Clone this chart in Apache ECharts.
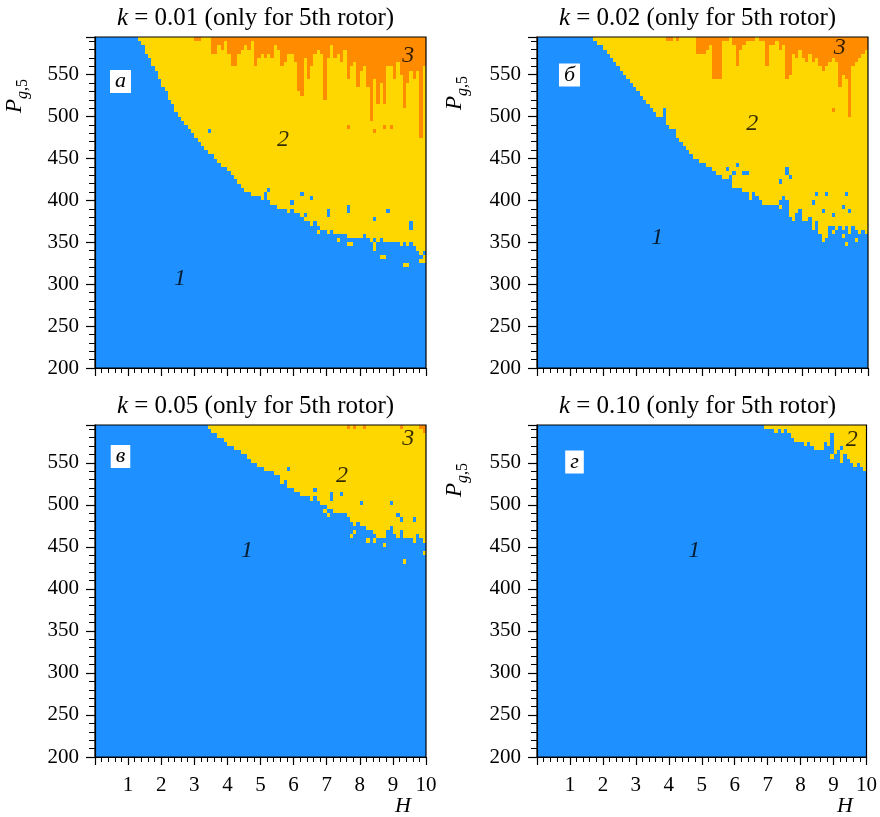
<!DOCTYPE html>
<html><head><meta charset="utf-8">
<script src="https://cdn.jsdelivr.net/npm/echarts@6/dist/echarts.min.js"></script>
<style>html,body{margin:0;padding:0;background:#fff}#c{width:880px;height:817px}</style>
</head><body><div id="c"></div>
<script>
// ---- axes / grid of the computation ----
const H_MIN = 0, H_MAX = 10, H_STEP = 0.1;          // 100 columns of H
const P_MIN = 200, P_MAX = 595, P_STEP = 5;         // rows of P_g,5
const xTickLabels = [1, 2, 3, 4, 5, 6, 7, 8, 9, 10];
const yTickLabels = [200, 250, 300, 350, 400, 450, 500, 550];
const kValues = ['0.01', '0.02', '0.05', '0.10'];
const panelLetters = ['а', 'б', 'в', 'г'];
const regionColors = ['#1E90FF', '#FFD700', '#FF8C00'];   // 1, 2, 3

// ---- per-column lowest P of region 2 (600 = none), columns H=0.1..10 ----
const boundA = [600,600,600,600,600,600,600,600,600,600,600,600,600,
 590,585,578,570,562,555,545,538,530,522,
 515,508,502,496,490,485,480,475,470,466,
 462,458,455,450,447,444,440,438,432,428,
 422,418,414,410,408,405,405,403,405,400,
 398,395,392,392,390,388,390,386,388,383,
 385,378,372,376,372,368,366,364,366,362,
 360,362,362,358,358,355,357,355,360,358,
 350,356,352,356,350,354,352,350,354,348,
 352,346,350,348,344,338,340];
const boundB = [600,600,600,600,600,600,600,600,600,600,600,600,600,600,600,600,600,
 590,588,585,580,575,570,565,560,555,550,
 545,542,537,532,527,522,517,512,508,503,
 500,495,490,487,484,478,472,465,460,456,
 453,450,448,446,442,440,437,434,430,426,
 428,425,418,415,418,414,412,408,410,406,
 400,398,396,395,398,396,402,405,400,385,
 384,386,392,378,375,380,372,376,360,356,
 358,370,374,368,372,366,370,364,372,365,
 362,368,362];
const boundC = [600,600,600,600,600,600,600,600,600,600,600,600,600,600,600,600,600,
 600,600,600,600,600,600,600,600,600,600,600,600,600,600,600,600,600,
 590,588,585,582,580,576,573,570,568,565,
 562,560,557,554,551,548,545,543,540,540,
 538,536,525,532,522,520,519,518,513,514,
 512,508,510,505,502,500,498,496,494,492,
 490,492,488,480,476,480,476,478,472,474,
 466,468,462,464,472,476,466,462,470,464,
 460,462,456,466,462,456];
const boundD = [600,600,600,600,600,600,600,600,600,600,600,600,600,600,600,600,600,600,600,600,
 600,600,600,600,600,600,600,600,600,600,600,600,600,600,600,600,600,600,600,600,
 600,600,600,600,600,600,600,600,600,600,600,600,600,600,600,600,600,600,600,600,
 600,600,600,600,600,600,600,600,600,
 590,590,590,585,590,585,590,585,580,575,
 578,575,572,578,570,568,565,568,578,572,
 575,562,565,558,562,556,552,548,552,545,
 542];

// ---- per-column lowest P of region 3 (600 = none) ----
const orangeA = [600,600,600,600,600,600,600,600,600,600,600,600,600,600,600,
 600,600,600,600,600,600,600,600,600,600,600,600,600,600,600,
 590,590,600,600,600,578,575,585,582,590,
 575,560,560,578,580,585,580,590,560,572,
 575,572,578,572,585,580,562,565,578,578,
 565,530,528,572,548,560,575,580,575,520,
 570,585,570,578,565,580,545,560,565,535,
 555,560,535,495,545,515,540,515,560,560,
 545,565,550,512,540,555,545,555,475,560];
const orangeB = [600,600,600,600,600,600,600,600,600,600,600,600,600,600,600,600,600,600,600,600,
 600,600,600,600,600,600,600,600,600,600,600,600,600,600,600,600,600,600,600,
 590,590,600,590,600,600,600,600,600,575,
 578,575,580,585,545,548,545,590,590,600,
 585,560,580,585,590,590,590,600,590,590,
 562,585,585,590,580,585,545,550,575,572,
 580,570,565,575,565,570,560,555,560,565,
 570,565,537,550,548,504,560,565,570,575,
 580];
const orangeC = [600,600,600,600,600,600,600,600,600,600,600,600,600,600,600,600,600,600,600,600,
 600,600,600,600,600,600,600,600,600,600,600,600,600,600,600,600,600,600,600,600,
 600,600,600,600,600,600,600,600,600,600,600,600,600,600,600,600,600,600,600,600,
 600,600,600,600,600,600,600,600,600,600,600,600,600,600,600,600,
 590,600,590,600,600,590,600,600,600,600,600,600,600,600,600,600,590,600,600,600,600,600,590,585];
const orangeD = null;

// ---- isolated cells [column, P, region index] ----
const specksA = [[35,484,0],[52,405,0],[53,410,0],[60,395,0],[63,405,0],[66,400,0],[71,385,0],[71,380,0],
 [77,385,0],[77,390,0],[85,378,0],[89,385,0],[96,370,0],[96,365,0],
 [64,375,1],[68,360,1],[74,350,1],[77,345,1],[78,345,1],[85,340,1],[85,345,1],[87,330,1],[88,330,1],
 [94,320,1],[95,320,1],[99,325,1],[100,325,1],[100,330,1],
 [77,488,2],[85,484,2],[88,485,2],[90,488,2]];
const specksB = [[39,495,0],[39,500,0],[39,505,0],[42,484,0],[58,435,0],[59,425,0],[60,430,0],[61,440,0],
 [63,432,0],[64,432,0],[74,420,0],[76,430,0],[76,435,0],[77,425,0],[84,398,0],[85,405,0],[87,388,0],
 [88,405,0],[90,380,0],[93,392,0],[94,405,0],[95,385,0],
 [65,400,1],[74,390,1],[77,380,1],[78,375,1],[84,365,1],[87,350,1],[90,362,1],[93,358,1],[94,345,1],[97,352,1],
 [90,506,2]];
const specksC = [[59,543,0],[67,515,0],[72,512,0],[72,507,0],[75,510,0],[81,500,0],[90,500,0],[92,485,0],[93,480,0],[97,480,0],
 [70,490,1],[71,485,1],[78,460,1],[79,465,1],[83,455,1],[85,455,1],[86,460,1],[88,452,1],[94,430,1],[100,440,1]];
const specksD = [[90,575,0],[90,580,0],[93,565,0],[90,558,1],[93,552,1]];

// ---- region number labels [H, P, text] ----
const regionsA = [[9.46,573,'3'],[5.68,472,'2'],[2.57,307,'1']];
const regionsB = [[9.15,582,'3'],[6.5,492,'2'],[3.63,355,'1']];
const regionsC = [[9.46,579,'3'],[7.46,535,'2'],[4.59,446,'1']];
const regionsD = [[9.55,577,'2'],[4.77,446,'1']];

// ---------------------------------------------------------------
const SERIF = 'Liberation Serif';
const panels = [
  {bound: boundA, orange: orangeA, specks: specksA, regions: regionsA},
  {bound: boundB, orange: orangeB, specks: specksB, regions: regionsB},
  {bound: boundC, orange: orangeC, specks: specksC, regions: regionsC},
  {bound: boundD, orange: orangeD, specks: specksD, regions: regionsD}
];
const layout = [
  {left: 95, top: 37, width: 331, height: 331},
  {left: 537, top: 37, width: 331, height: 331},
  {left: 95, top: 425, width: 331, height: 332},
  {left: 537, top: 425, width: 331, height: 332}
];
const snap = v => Math.min(P_MAX, Math.floor(v / P_STEP) * P_STEP);

function buildCells(p) {
  const out = [];
  const n = Math.round((H_MAX - H_MIN) / H_STEP);
  for (let c = 1; c <= n; c++) {
    const h0 = H_MIN + (c - 1) * H_STEP, h1 = H_MIN + c * H_STEP;
    const b = snap(p.bound[c - 1]);
    const o = p.orange ? Math.max(b, snap(p.orange[c - 1])) : P_MAX;
    out.push([h0, h1, P_MIN, b, 0]);
    if (o > b) out.push([h0, h1, b, o, 1]);
    if (o < P_MAX) out.push([h0, h1, o, P_MAX, 2]);
  }
  p.specks.forEach(([c, v, k]) => {
    const q = snap(v);
    out.push([H_MIN + (c - 1) * H_STEP, H_MIN + c * H_STEP, q, q + P_STEP, k]);
  });
  return out;
}

function renderCell(params, api) {
  const a = api.coord([api.value(0), api.value(3)]);
  const b = api.coord([api.value(1), api.value(2)]);
  const x0 = Math.round(a[0]), x1 = Math.round(b[0]);
  const y0 = Math.round(a[1]), y1 = Math.round(b[1]);
  return {
    type: 'rect',
    shape: {x: x0, y: y0, width: x1 - x0, height: y1 - y0},
    style: {fill: regionColors[api.value(4)], lineWidth: 0}
  };
}

const grids = [], xAxes = [], yAxes = [], series = [], graphics = [];
layout.forEach((g, i) => {
  grids.push(Object.assign({show: true, borderColor: '#000', borderWidth: 1.2, backgroundColor: 'transparent', z: 10}, g));
  const bottomRow = i >= 2;
  xAxes.push({
    type: 'value', gridIndex: i, min: H_MIN, max: H_MAX, interval: 1, z: 10,
    axisLine: {show: true, onZero: false, lineStyle: {color: '#000', width: 1.2}},
    axisTick: {show: true, inside: false, length: 8, lineStyle: {color: '#000', width: 1.2}},
    minorTick: {show: true, splitNumber: 5, length: 5, lineStyle: {color: '#000', width: 1}},
    splitLine: {show: false},
    axisLabel: {
      show: bottomRow, margin: 18, color: '#000', fontFamily: SERIF, fontSize: 21,
      formatter: v => (xTickLabels.indexOf(v) >= 0 ? String(v) : '')
    }
  });
  yAxes.push({
    type: 'value', gridIndex: i, min: P_MIN, max: P_MAX, interval: 50, z: 10,
    axisLine: {show: true, onZero: false, lineStyle: {color: '#000', width: 1.2}},
    axisTick: {show: true, inside: false, length: 9, lineStyle: {color: '#000', width: 1.2}},
    minorTick: {show: true, splitNumber: 5, length: 6, lineStyle: {color: '#000', width: 1}},
    splitLine: {show: false},
    axisLabel: {
      margin: 16, color: '#000', fontFamily: SERIF, fontSize: 21,
      formatter: v => (yTickLabels.indexOf(v) >= 0 ? String(v) : '')
    }
  });
  series.push({
    type: 'custom', xAxisIndex: i, yAxisIndex: i, clip: true, silent: true,
    renderItem: renderCell, data: buildCells(panels[i]), animation: false
  });
  series.push({
    type: 'scatter', xAxisIndex: i, yAxisIndex: i, silent: true, symbolSize: 1, z: 5,
    itemStyle: {color: 'rgba(0,0,0,0)'},
    label: {show: true, position: 'inside', formatter: '{b}', color: '#000',
            fontFamily: SERIF, fontStyle: 'italic', fontSize: 24},
    data: panels[i].regions.map(r => ({name: r[2], value: [r[0], r[1]]})),
    animation: false
  });
  // titles
  graphics.push({
    type: 'text', x: g.left + g.width / 2 - 5, y: g.top - 19,
    style: {
      text: '{i|k} = ' + kValues[i] + ' (only for 5th rotor)',
      align: 'center', verticalAlign: 'middle', fill: '#000',
      fontFamily: SERIF, fontSize: 25,
      rich: {i: {fontStyle: 'italic', fontFamily: SERIF, fontSize: 25}}
    }
  });
  // panel letter boxes
  const letterPos = [[120.5, 81.5], [569.5, 75], [120.5, 456.5], [574.5, 462]][i];
  graphics.push({
    type: 'text', x: letterPos[0], y: letterPos[1], z: 20,
    style: {
      text: panelLetters[i], align: 'center', verticalAlign: 'middle', fill: '#000',
      fontFamily: SERIF, fontStyle: 'italic', fontSize: 22,
      backgroundColor: '#fff', padding: [0, 5, 1, 5]
    }
  });
});

// y-axis names (panels а, б, г) and x-axis names (bottom row)
[[17, 96], [457, 93], [457, 480]].forEach(([x, y]) => {
  graphics.push({
    type: 'text', x: x, y: y, rotation: Math.PI / 2,
    style: {
      text: '{p|P}{g|g}{c|,5}', align: 'center', verticalAlign: 'middle', fill: '#000',
      rich: {
        p: {fontFamily: SERIF, fontStyle: 'italic', fontSize: 23, lineHeight: 28, verticalAlign: 'top'},
        g: {fontFamily: SERIF, fontStyle: 'italic', fontSize: 16, lineHeight: 28, verticalAlign: 'bottom'},
        c: {fontFamily: SERIF, fontSize: 16, lineHeight: 28, verticalAlign: 'bottom'}
      }
    }
  });
});
[[403, 806], [845, 806]].forEach(([x, y]) => {
  graphics.push({
    type: 'text', x: x, y: y,
    style: {text: 'H', align: 'center', verticalAlign: 'middle', fill: '#000',
            fontFamily: SERIF, fontStyle: 'italic', fontSize: 22}
  });
});

const chart = echarts.init(document.getElementById('c'), null, {renderer: 'canvas'});
chart.setOption({
  animation: false,
  backgroundColor: '#fff',
  grid: grids, xAxis: xAxes, yAxis: yAxes, series: series, graphic: graphics
});
</script></body></html>
